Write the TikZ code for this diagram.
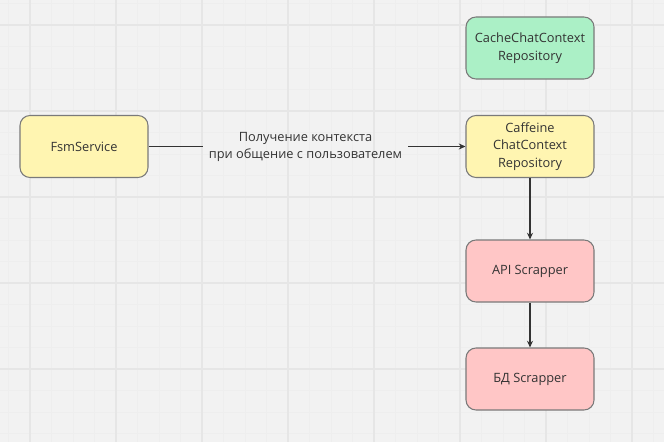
\documentclass[tikz,border=0pt]{standalone}
\usepackage{fontspec}
\setmainfont{Open Sans}
\usetikzlibrary{arrows.meta}
\definecolor{bg}{HTML}{F2F2F2}
\definecolor{gmaj}{HTML}{E6E6E6}
\definecolor{gmin}{HTML}{EEEEEE}
\definecolor{yel}{HTML}{FFF5B1}
\definecolor{grn}{HTML}{ABF0C6}
\definecolor{red}{HTML}{FFC6C6}
\definecolor{edge}{HTML}{7A7A7A}
\definecolor{txt}{HTML}{333333}
\tikzset{
  box/.style={draw=edge, line width=0.8pt, rounded corners=7.5pt, minimum width=96pt, minimum height=46.5pt, inner sep=0pt, align=center, font=\fontsize{9.6}{13.2}\selectfont, text=txt},
  conn/.style={draw=txt, line width=0.9pt, -{Stealth[length=5pt,width=4.5pt]}},
  lbl/.style={align=center, font=\fontsize{9.6}{13.2}\selectfont, text=txt, inner sep=0pt}
}
\begin{document}
\begin{tikzpicture}[x=0.75pt,y=-0.75pt]
\useasboundingbox (0,0) rectangle (664,442);
\fill[bg] (0,0) rectangle (664,442);
% minor grid
\foreach \i in {0,...,32} {
  \draw[gmin, line width=0.5pt] ({30+21.5*(\i-1)},0) -- ({30+21.5*(\i-1)},442);
}
\foreach \j in {0,...,21} {
  \draw[gmin, line width=0.5pt] (0,{25+21.5*(\j-1)}) -- (664,{25+21.5*(\j-1)});
}
% major grid
\foreach \xx in {30,116,202,288,374,460,546,632} {
  \draw[gmaj, line width=1pt] (\xx,0) -- (\xx,442);
}
\foreach \yy in {25,111,197,283,369} {
  \draw[gmaj, line width=1pt] (0,\yy) -- (664,\yy);
}
\node[box, fill=yel] (fsm) at (84,146.5) {FsmService};
\node[box, fill=grn] (cache) at (530,48) {CacheChatContext\\Repository};
\node[box, fill=yel] (caff) at (530,146.5) {Caffeine\\ChatContext\\Repository};
\node[box, fill=red] (api) at (530,271) {API Scrapper};
\node[box, fill=red] (bd) at (530,379) {БД Scrapper};
\node[lbl] (l) at (305.5,147) {Получение контекста\\при общение с пользователем};
\draw[draw=txt, line width=0.9pt] (fsm.east) -- (203,146.5) coordinate (la);
\coordinate (lb) at (408,146.5);
\draw[conn] (lb) -- (caff.west);
\draw[conn] (caff.south) -- (api.north);
\draw[conn] (api.south) -- (bd.north);
\end{tikzpicture}
\end{document}
